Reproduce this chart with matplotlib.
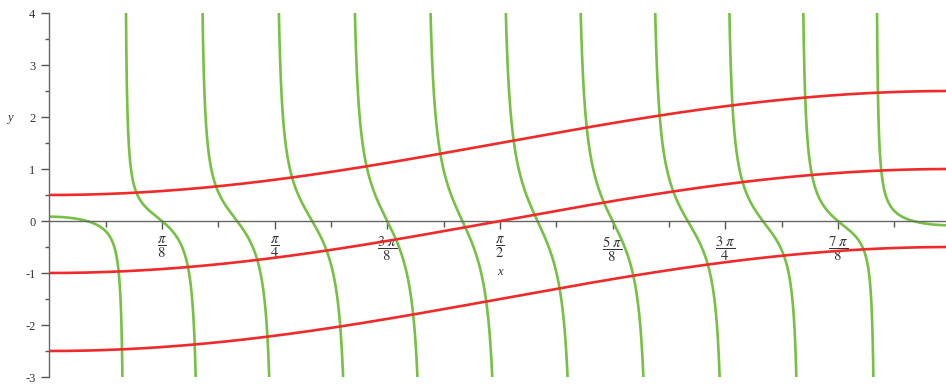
import numpy as np
import matplotlib.pyplot as plt
from matplotlib.ticker import MultipleLocator, FixedLocator

# Curves: red  y = c - cos(x)   for the three offsets
#         green y = sin(x) * cot(k x)
red_offsets = [1.5, 0.0, -1.5]
green_k = 12

x_ticks = [np.pi / 8 * i for i in range(1, 8)]
x_labels = [r'$\dfrac{\pi}{8}$', r'$\dfrac{\pi}{4}$', r'$\dfrac{3\ \pi}{8}$', r'$\dfrac{\pi}{2}$',
            r'$\dfrac{5\ \pi}{8}$', r'$\dfrac{3\ \pi}{4}$', r'$\dfrac{7\ \pi}{8}$']
y_ticks = [-3, -2, -1, 0, 1, 2, 3, 4]

plt.rcParams['font.family'] = 'Liberation Serif'
plt.rcParams['mathtext.fontset'] = 'stix'

fig = plt.figure(figsize=(9.46, 3.88), dpi=100)
ax = fig.add_axes([49.3 / 946, 11 / 388, 901.3 / 946, 364 / 388])

x = np.linspace(1e-6, np.pi - 1e-6, 20000)
with np.errstate(divide='ignore', invalid='ignore'):
    g = np.sin(x) * np.cos(green_k * x) / np.sin(green_k * x)
g[np.abs(g) > 20] = np.nan
ax.plot(x, g, color='#76c043', lw=1.9, zorder=2)

for c in red_offsets:
    ax.plot(x, c - np.cos(x), color='#ee2a2a', lw=1.9, zorder=3)

ax.set_xlim(0, np.pi)
ax.set_ylim(-3, 4)

for s in ['top', 'right']:
    ax.spines[s].set_visible(False)
ax.spines['bottom'].set_position(('data', 0))
for s in ['left', 'bottom']:
    ax.spines[s].set_color('#666666')
    ax.spines[s].set_linewidth(1.0)

ax.xaxis.set_major_locator(FixedLocator(x_ticks))
ax.set_xticklabels(x_labels, fontsize=10.5, color='#333333')
ax.xaxis.set_minor_locator(FixedLocator([np.pi / 16 * (2 * i + 1) for i in range(8)]))
ax.yaxis.set_major_locator(FixedLocator(y_ticks))
ax.set_yticklabels([str(v) for v in y_ticks], fontsize=9, color='#333333')
ax.yaxis.set_minor_locator(MultipleLocator(0.5))

ax.tick_params(axis='x', which='major', direction='out', length=6, width=1, color='#555555', pad=4)
ax.tick_params(axis='x', which='minor', direction='out', length=4, width=1, color='#555555')
ax.tick_params(axis='y', which='major', direction='out', length=6, width=1, color='#555555', pad=4)
ax.tick_params(axis='y', which='minor', direction='out', length=3, width=1, color='#555555')

ax.text(np.pi / 2, -0.98, 'x', ha='center', va='center', fontsize=9, style='italic', color='#333333')
fig.text(10 / 946, 1 - 118 / 388, 'y', ha='center', va='center', fontsize=9, style='italic', color='#333333')

fig.savefig('out.png', dpi=100)
